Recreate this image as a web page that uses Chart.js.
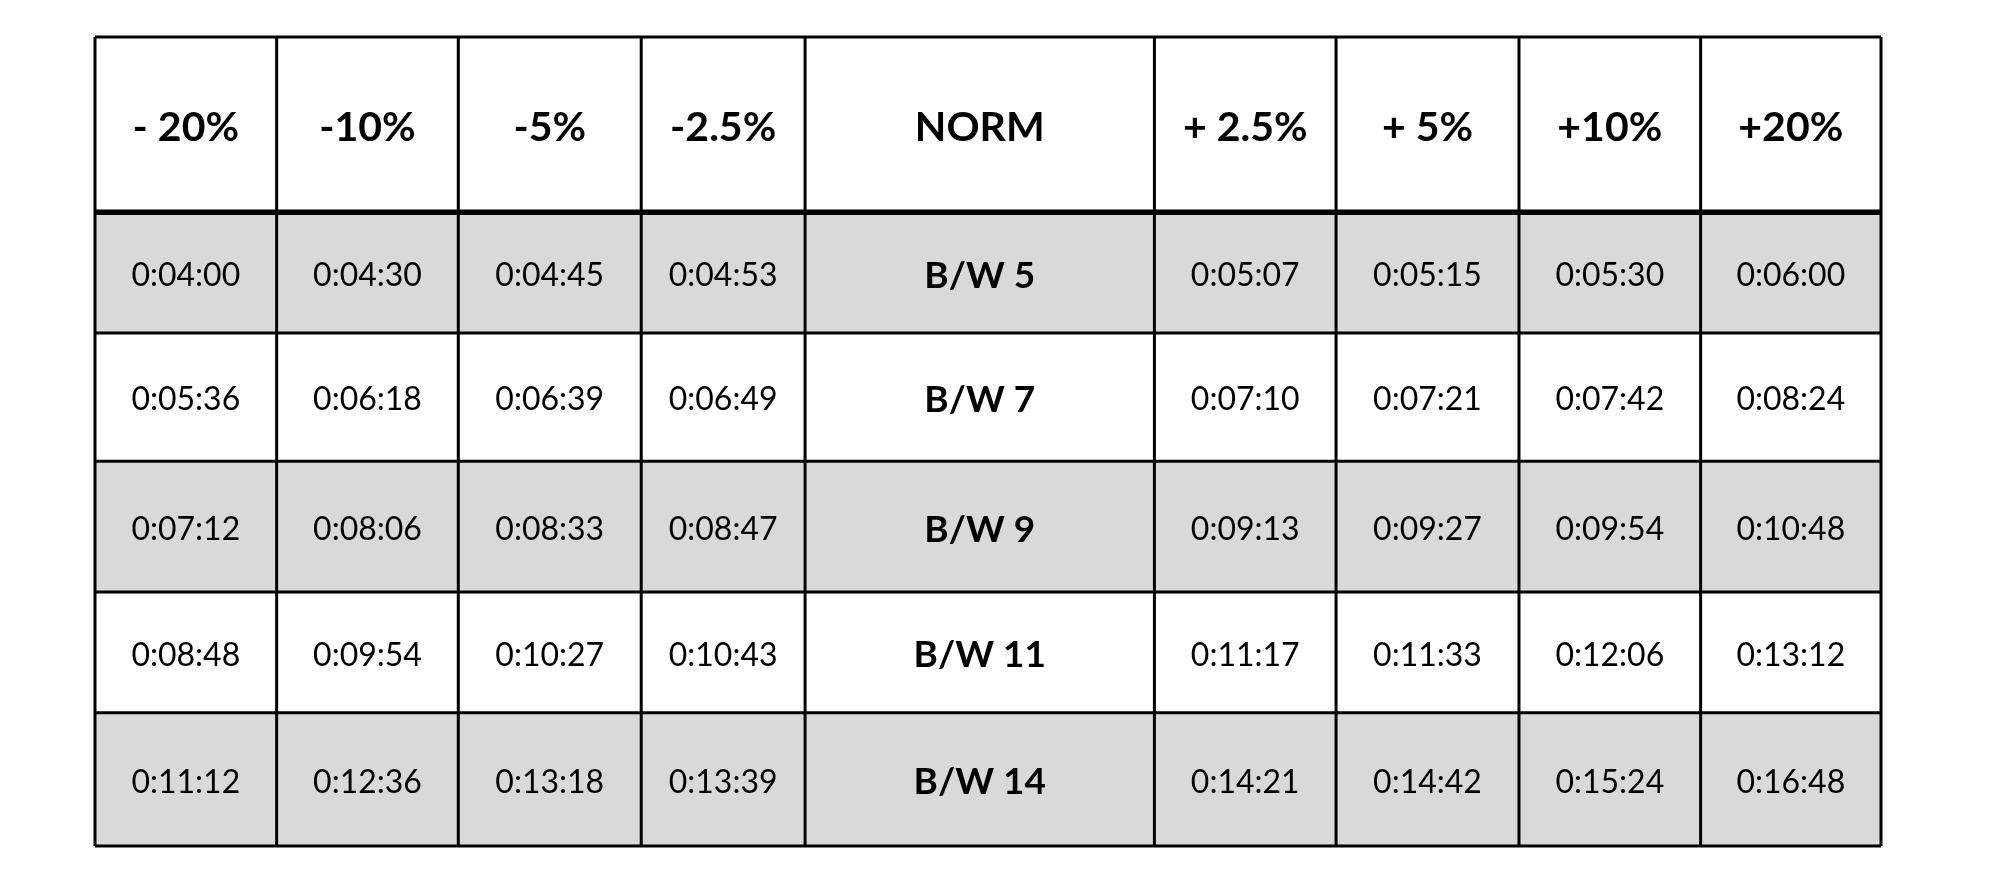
<!DOCTYPE html>
<html>
<head>
<meta charset="utf-8">
<script src="https://cdn.jsdelivr.net/npm/chart.js@4/dist/chart.umd.min.js"></script>
<style>
  html, body { margin: 0; padding: 0; background: #fff; }
  #wrap { width: 1992px; height: 896px; }
</style>
</head>
<body>
<div id="wrap"><canvas id="table"></canvas></div>
<script>
// Pace table drawn as a grid on hidden linear scales

const headers = ['- 20%', '-10%', '-5%', '-2.5%', 'NORM', '+ 2.5%', '+ 5%', '+10%', '+20%'];
const rowLabels = ['B/W 5', 'B/W 7', 'B/W 9', 'B/W 11', 'B/W 14'];
const minusTimes = [
  ['0:04:00', '0:04:30', '0:04:45', '0:04:53'],
  ['0:05:36', '0:06:18', '0:06:39', '0:06:49'],
  ['0:07:12', '0:08:06', '0:08:33', '0:08:47'],
  ['0:08:48', '0:09:54', '0:10:27', '0:10:43'],
  ['0:11:12', '0:12:36', '0:13:18', '0:13:39']
];
const plusTimes = [
  ['0:05:07', '0:05:15', '0:05:30', '0:06:00'],
  ['0:07:10', '0:07:21', '0:07:42', '0:08:24'],
  ['0:09:13', '0:09:27', '0:09:54', '0:10:48'],
  ['0:11:17', '0:11:33', '0:12:06', '0:13:12'],
  ['0:14:21', '0:14:42', '0:15:24', '0:16:48']
];

// relative column widths / row heights (layout)
const colW = [143, 143, 144, 129, 275, 143, 144, 143, 142];
const rowH = [138, 95, 101, 103, 95, 105];

const colEdges = [0];
colW.forEach(w => colEdges.push(colEdges[colEdges.length - 1] + w));
const rowEdges = [0];
rowH.forEach(h => rowEdges.push(rowEdges[rowEdges.length - 1] + h));

// one point per cell at its centre, carrying the text
const cells = [];
for (let c = 0; c < headers.length; c++) {
  cells.push({ x: (colEdges[c] + colEdges[c + 1]) / 2, y: (rowEdges[0] + rowEdges[1]) / 2, t: headers[c], kind: 'head' });
}
for (let r = 0; r < rowLabels.length; r++) {
  const vals = minusTimes[r].concat([rowLabels[r]], plusTimes[r]);
  for (let c = 0; c < vals.length; c++) {
    cells.push({
      x: (colEdges[c] + colEdges[c + 1]) / 2,
      y: (rowEdges[r + 1] + rowEdges[r + 2]) / 2,
      t: vals[c],
      kind: c === 4 ? 'label' : 'time'
    });
  }
}

const gridPlugin = {
  id: 'grid',
  beforeDatasetsDraw(chart) {
    const { ctx, scales: { x, y } } = chart;
    const X = v => x.getPixelForValue(v);
    const Y = v => y.getPixelForValue(v);
    ctx.save();
    // grey bands
    ctx.fillStyle = '#d9d9d9';
    for (let r = 0; r < rowLabels.length; r += 2) {
      ctx.fillRect(X(0), Y(rowEdges[r + 1]), X(colEdges[colEdges.length - 1]) - X(0), Y(rowEdges[r + 2]) - Y(rowEdges[r + 1]));
    }
    ctx.strokeStyle = '#000';
    ctx.lineWidth = 3;
    colEdges.forEach(e => {
      ctx.beginPath();
      ctx.moveTo(X(e), Y(0));
      ctx.lineTo(X(e), Y(rowEdges[rowEdges.length - 1]));
      ctx.stroke();
    });
    rowEdges.forEach((e, i) => {
      ctx.lineWidth = i === 1 ? 5.5 : 3;
      ctx.beginPath();
      ctx.moveTo(X(0), Y(e));
      ctx.lineTo(X(colEdges[colEdges.length - 1]), Y(e));
      ctx.stroke();
    });
    ctx.restore();
  },
  afterDatasetsDraw(chart) {
    const { ctx } = chart;
    const meta = chart.getDatasetMeta(0);
    ctx.save();
    ctx.fillStyle = '#000';
    ctx.textAlign = 'center';
    ctx.textBaseline = 'middle';
    meta.data.forEach((pt, i) => {
      const cell = cells[i];
      if (cell.kind === 'head') ctx.font = 'bold 41px Lato';
      else if (cell.kind === 'label') ctx.font = 'bold 37px Lato';
      else ctx.font = '32px Lato';
      ctx.fillText(cell.t, pt.x, pt.y + 3);
    });
    ctx.restore();
  }
};

new Chart(document.getElementById('table'), {
  type: 'scatter',
  data: {
    datasets: [{
      data: cells.map(c => ({ x: c.x, y: c.y })),
      pointRadius: 0,
      pointHoverRadius: 0
    }]
  },
  options: {
    responsive: true,
    maintainAspectRatio: false,
    animation: false,
    layout: { padding: { left: 95, right: 111, top: 37, bottom: 50 } },
    plugins: { legend: { display: false }, tooltip: { enabled: false } },
    scales: {
      x: { type: 'linear', display: false, min: 0, max: colEdges[colEdges.length - 1] },
      y: { type: 'linear', display: false, reverse: true, min: 0, max: rowEdges[rowEdges.length - 1] }
    }
  },
  plugins: [gridPlugin]
});
</script>
</body>
</html>
